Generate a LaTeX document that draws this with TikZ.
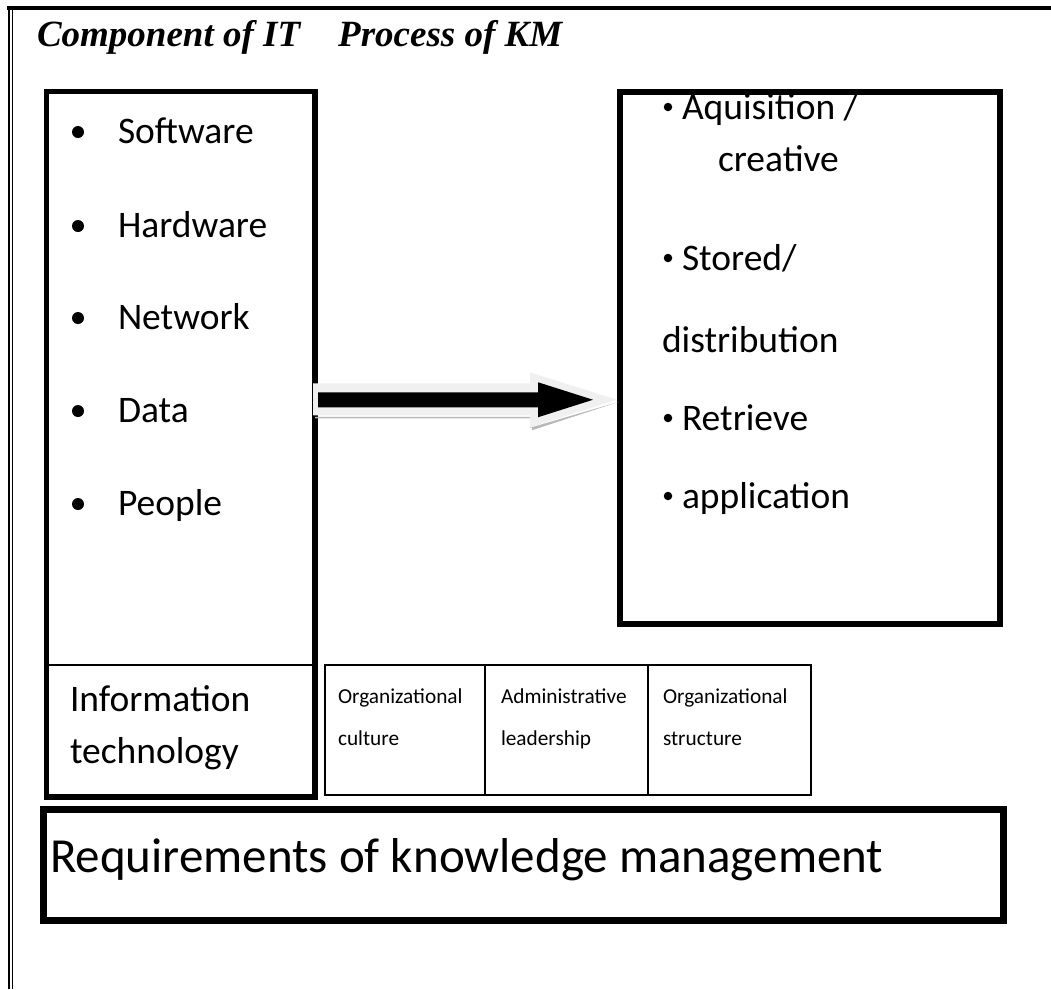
\documentclass[tikz,border=0pt]{standalone}
\usepackage{fontspec}
\setmainfont{Carlito}
\newfontfamily\titlefont{Liberation Serif}
\usetikzlibrary{calc}
\begin{document}
\begin{tikzpicture}[x=1pt,y=-1pt,
  box/.style={draw, rectangle, inner sep=0pt, outer sep=0pt, anchor=north west},
  heavybox/.style={box, line width=5.5pt},
  lightbox/.style={box, line width=1.5pt},
  txt/.style={inner sep=0pt, outer sep=0pt, anchor=base west},
  itemtxt/.style={txt, font=\fontsize{37.5}{42}\selectfont},
  smalltxt/.style={txt, font=\fontsize{21.3}{25}\selectfont},
  bigdot/.style={circle, fill=black, inner sep=0pt, outer sep=0pt, minimum size=12pt},
  smalldot/.style={circle, fill=black, inner sep=0pt, outer sep=0pt, minimum size=8.5pt},
  arrowhalo/.style={fill=black!6},
  arrowshade/.style={fill=black!28},
  arrowcore/.style={fill=black}]
\useasboundingbox (0,0) rectangle (1051,989);

% page border: heavy top rule, double rule on the left
\draw[line width=3.5pt] (7,8) -- (1051,8);
\draw[line width=2pt] (8.5,6.5) -- (8.5,989);
\draw[line width=1.5pt] (12.5,10) -- (12.5,989);

% heading
\node[txt, font=\titlefont\fontsize{37}{41}\selectfont\bfseries\itshape] (title) at (37,46)
  {Component of IT\hspace{38pt}Process of KM};

% main boxes
\node[heavybox, minimum width=268.5pt, minimum height=705.5pt] (itbox) at (46.5,91.5) {};
\node[heavybox, line width=6pt, minimum width=380pt, minimum height=532pt] (kmbox) at (620,91.5) {};
\draw[line width=1.5pt] (itbox.west |- 0,665) -- (itbox.east |- 0,665);

% IT components
\foreach \name/\word/\yy in {sw/Software/143, hw/Hardware/237, nw/Network/329, dt/Data/422, pp/People/515}{
  \node[bigdot] (dot\name) at (78,\yy-11) {};
  \node[itemtxt] (\name) at (118,\yy) {\word};
}
\node[itemtxt] (info1) at (70,711) {Information};
\node[itemtxt] (info2) at (70,763) {technology};

% KM process steps
\node[smalldot] (d1) at (668,107) {};
\node[itemtxt] (acq) at (682,119) {Aquisition /};
\node[itemtxt] (cre) at (718,171) {creative};
\node[smalldot] (d2) at (668,258) {};
\node[itemtxt] (sto) at (682,270) {Stored/};
\node[itemtxt] (dis) at (662,352) {distribution};
\node[smalldot] (d3) at (668,418) {};
\node[itemtxt] (ret) at (682,430) {Retrieve};
\node[smalldot] (d4) at (668,496) {};
\node[itemtxt] (app) at (682,508) {application};

% other requirements
\node[lightbox, minimum width=160pt, minimum height=130pt] (oc) at (325,665) {};
\node[lightbox, minimum width=163pt, minimum height=130pt] (al) at (485,665) {};
\node[lightbox, minimum width=163pt, minimum height=130pt] (os) at (648,665) {};
\node[smalltxt] at (338,703) {Organizational};
\node[smalltxt] at (338,745) {culture};
\node[smalltxt] at (501,703) {Administrative};
\node[smalltxt] at (501,745) {leadership};
\node[smalltxt] at (663,703) {Organizational};
\node[smalltxt] at (663,745) {structure};

% base box
\node[heavybox, line width=7pt, minimum width=960pt, minimum height=111pt] (req) at (43.5,809) {};
\node[txt, font=\fontsize{49}{55}\selectfont] (reqtxt) at (50,872) {Requirements of knowledge management};

% block arrow from the IT box to the KM box
\coordinate (aS) at ($(itbox.east)+(0,-44.5)$);
\coordinate (aT) at (kmbox.west |- aS);
\fill[arrowshade] ($(aS)+(0,18.5)$) -- ($(aT)+(-88,18.5)$) -- ($(aT)+(-88,30.5)$) -- ($(aT)+(-1,2)$)
  -- ($(aT)+(-90,28)$) -- ($(aT)+(-90,17)$) -- ($(aS)+(0,17)$) -- cycle;
\fill[arrowhalo] ($(aS)+(-2,-16.5)$) -- ($(aT)+(-90,-16.5)$) -- ($(aT)+(-90,-27.5)$) -- ($(aT)+(-3,0)$)
  -- ($(aT)+(-90,27.5)$) -- ($(aT)+(-90,15.5)$) -- ($(aS)+(-2,15.5)$) -- cycle;
\fill[arrowcore] ($(aS)+(3,-7.5)$) -- ($(aT)+(-82,-7.5)$) -- ($(aT)+(-82,-17.5)$) -- ($(aT)+(-27,0)$)
  -- ($(aT)+(-82,17.5)$) -- ($(aT)+(-82,7.5)$) -- ($(aS)+(3,7.5)$) -- cycle;
\end{tikzpicture}
\end{document}
